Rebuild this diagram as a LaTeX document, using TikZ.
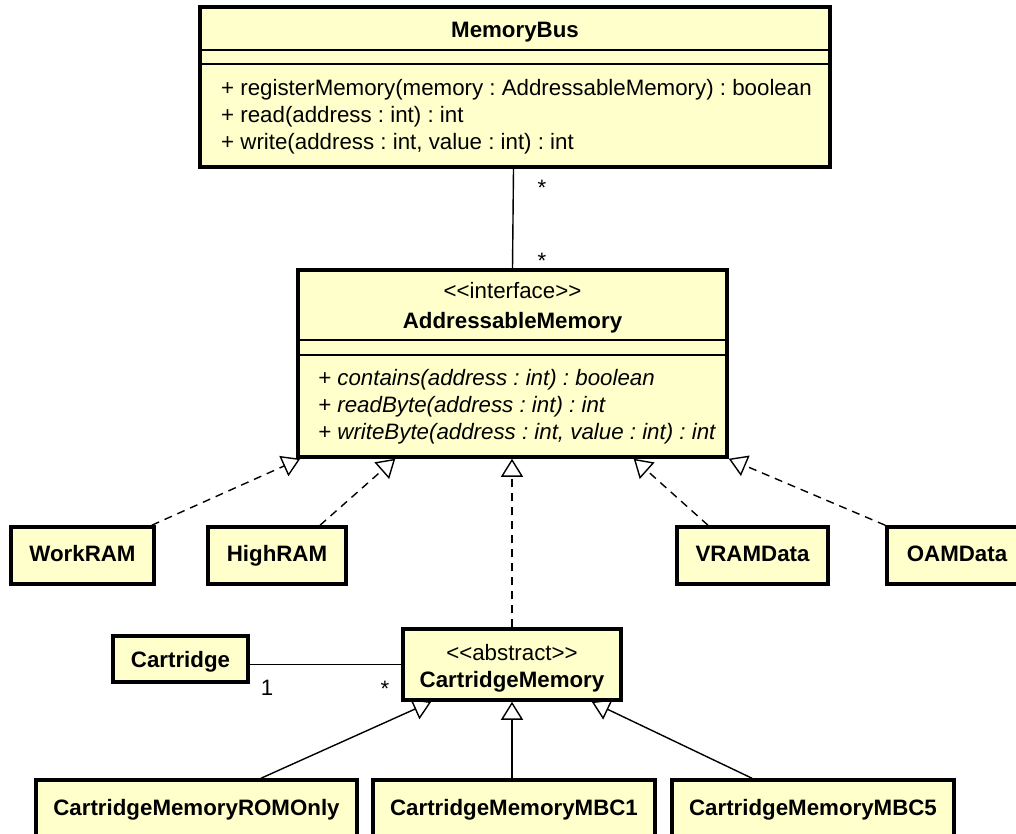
\documentclass[tikz,border=0pt]{standalone}
\usepackage{fontspec}
\setmainfont{Liberation Sans}[Ligatures=TeXOff]
\usetikzlibrary{arrows.meta}
\definecolor{classfill}{HTML}{FFFFCC}
\pgfdeclarelayer{background}
\pgfsetlayers{background,main}
\frenchspacing
\newcommand\umlsize{\fontsize{22.3pt}{26pt}\selectfont}
\begin{document}
\begin{tikzpicture}[
  x=1pt, y=-1pt,
  cls/.style={draw=black, line width=3.5pt, fill=classfill, rectangle, inner sep=0pt},
  txt/.style={inner sep=0pt, font=\umlsize},
  ttl/.style={txt, font=\umlsize\bfseries, anchor=base},
  member/.style={txt, anchor=base west},
  sepline/.style={line width=1.6pt},
  mult/.style={txt, anchor=base},
  assoc/.style={line width=1.4pt},
  realize/.style={line width=1.4pt, dash pattern=on 8pt off 6pt,
    -{Triangle[length=18pt, width=22pt, fill=white]}},
  inherit/.style={line width=1.4pt,
    -{Triangle[length=18pt, width=22pt, fill=white]}}
]
\useasboundingbox (0,0) rectangle (1016,834);
\clip (0,0) rectangle (1016,834);

% ---------- MemoryBus ----------
\node[cls, minimum width=630pt, minimum height=160pt] (mb) at (515,87) {};
\node[ttl] (mbname) at (515,38) {MemoryBus};
\draw[sepline] (mb.west |- 0,50) -- (mb.east |- 0,50);
\draw[sepline] (mb.west |- 0,64) -- (mb.east |- 0,64);
\node[member] (mb1) at (221,96) {+ registerMemory(memory : AddressableMemory) : boolean};
\node[member] (mb2) at (221,123) {+ read(address : int) : int};
\node[member] (mb3) at (221,150) {+ write(address : int, value : int) : int};

% ---------- AddressableMemory ----------
\node[cls, minimum width=429pt, minimum height=187pt] (am) at (512.5,363.5) {};
\node[txt, anchor=base] (amst) at (512.5,298) {<<interface>>};
\node[ttl] (amname) at (512.5,328) {AddressableMemory};
\draw[sepline] (am.west |- 0,340) -- (am.east |- 0,340);
\draw[sepline] (am.west |- 0,355) -- (am.east |- 0,355);
\node[member, font=\umlsize\itshape] (am1) at (318,385) {+ contains(address : int) : boolean};
\node[member, font=\umlsize\itshape] (am2) at (318,412) {+ readByte(address : int) : int};
\node[member, font=\umlsize\itshape] (am3) at (318,439) {+ writeByte(address : int, value : int) : int};

% ---------- implementations ----------
\node[cls, minimum width=143pt, minimum height=57pt] (work) at (82.5,555.5) {};
\node[ttl] at (82.5,561) {WorkRAM};
\node[cls, minimum width=138pt, minimum height=57pt] (high) at (277,555.5) {};
\node[ttl] at (277,561) {HighRAM};
\node[cls, minimum width=151pt, minimum height=57pt] (vram) at (752.5,555.5) {};
\node[ttl] at (752.5,561) {VRAMData};
\node[cls, minimum width=140pt, minimum height=57pt] (oam) at (957,555.5) {};
\node[ttl] at (957,561) {OAMData};

% ---------- cartridge ----------
\node[cls, minimum width=135pt, minimum height=46pt] (cart) at (180.5,659) {};
\node[ttl] at (180.5,667) {Cartridge};
\node[cls, minimum width=218pt, minimum height=71pt] (cm) at (512,664.5) {};
\node[txt, anchor=base] (cmst) at (512,660) {<<abstract>>};
\node[ttl] (cmname) at (512,687) {CartridgeMemory};

\node[cls, minimum width=321pt, minimum height=70pt] (rom) at (196.5,815) {};
\node[ttl] at (196.5,815) {CartridgeMemoryROMOnly};
\node[cls, minimum width=282pt, minimum height=70pt] (mbc1) at (514,815) {};
\node[ttl] at (514,815) {CartridgeMemoryMBC1};
\node[cls, minimum width=282pt, minimum height=70pt] (mbc5) at (813,815) {};
\node[ttl] at (813,815) {CartridgeMemoryMBC5};

% ---------- multiplicities ----------
\node[mult] (m1) at (542,196) {*};
\node[mult] (m2) at (542,268) {*};
\node[mult] (m3) at (267,695) {1};
\node[mult] (m4) at (385,696) {*};

% ---------- connectors ----------
\begin{pgfonlayer}{background}
  \draw[assoc] ([xshift=-1.5pt]mb.south) -- (am.north);
  \draw[assoc] (cart.east |- cm.west) -- (cm.west);

  \draw[realize] ([xshift=-4pt]work.north east) -- ([xshift=4pt]am.south west);
  \draw[realize] ([xshift=43pt]high.north) -- ([xshift=99pt]am.south west);
  \draw[realize] (cm.north) -- (cm.north |- am.south);
  \draw[realize] ([xshift=-44.5pt]vram.north) -- ([xshift=-95pt]am.south east);
  \draw[realize] (oam.north west) -- (am.south east);

  \draw[inherit] ([xshift=64.5pt]rom.north) -- ([xshift=30pt]cm.south west);
  \draw[inherit] (cm.south |- mbc1.north) -- (cm.south);
  \draw[inherit] ([xshift=-61pt]mbc5.north) -- ([xshift=-31pt]cm.south east);
\end{pgfonlayer}
\end{tikzpicture}
\end{document}
